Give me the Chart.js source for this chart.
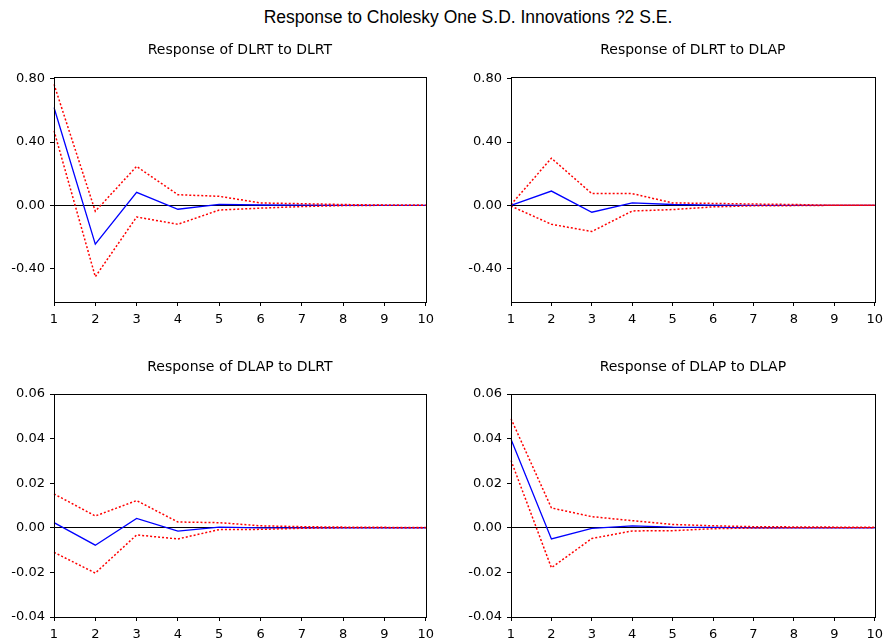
<!DOCTYPE html>
<html>
<head>
<meta charset="utf-8">
<script src="https://cdn.jsdelivr.net/npm/chart.js@4.4.1/dist/chart.umd.min.js"></script>
<style>
  html, body { margin: 0; padding: 0; background: #fff; overflow: hidden; }
  body { width: 889px; height: 643px; position: relative; }
  #titulo { position: absolute; left: 0; width: 936px; top: 7px; text-align: center;
    font: 17.5px "Liberation Sans", Arial, sans-serif; color: #000; }
  .panel { position: absolute; }
</style>
</head>
<body>
<div id="titulo">Response to Cholesky One S.D. Innovations ?2 S.E.</div>
<div class="panel" style="left:0;top:30px;width:440px;height:296px"><canvas id="c1"></canvas></div>
<div class="panel" style="left:457px;top:30px;width:432px;height:296px"><canvas id="c2"></canvas></div>
<div class="panel" style="left:0;top:347px;width:440px;height:296px"><canvas id="c3"></canvas></div>
<div class="panel" style="left:457px;top:347px;width:432px;height:296px"><canvas id="c4"></canvas></div>
<script>
// periodos
const periodos = ['1', '2', '3', '4', '5', '6', '7', '8', '9', '10'];

// Response of DLRT to DLRT
const dlrtDlrt = [0.619, -0.246, 0.082, -0.025, 0.006, 0.002, 0.001, 0.0, 0.0, 0.0];
const dlrtDlrtUp = [0.766, -0.038, 0.246, 0.067, 0.057, 0.015, 0.010, 0.005, 0.001, 0.0];
const dlrtDlrtLo = [0.472, -0.452, -0.074, -0.120, -0.030, -0.018, -0.008, -0.002, 0.0, 0.0];

// Response of DLRT to DLAP
const dlrtDlap = [0.0, 0.090, -0.044, 0.015, 0.005, 0.001, 0.0, 0.0, 0.0, 0.0];
const dlrtDlapUp = [0.005, 0.298, 0.074, 0.074, 0.015, 0.012, 0.008, 0.005, 0.0, 0.0];
const dlrtDlapLo = [-0.005, -0.120, -0.166, -0.036, -0.027, -0.010, -0.003, -0.002, 0.0, 0.0];

// Response of DLAP to DLRT
const dlapDlrt = [0.0023, -0.0078, 0.0042, -0.0015, 0.0003, 0.0, 0.0, 0.0, 0.0, 0.0];
const dlapDlrtUp = [0.0152, 0.0053, 0.0122, 0.0026, 0.0023, 0.0009, 0.0005, 0.0003, 0.0002, 0.0001];
const dlapDlrtLo = [-0.0110, -0.0203, -0.0032, -0.0050, -0.0008, -0.0007, -0.0002, 0.0, 0.0, 0.0];

// Response of DLAP to DLAP
const dlapDlap = [0.0397, -0.0050, -0.0003, 0.0009, 0.0003, 0.0002, 0.0, 0.0, 0.0, 0.0];
const dlapDlapUp = [0.0489, 0.0089, 0.0050, 0.0032, 0.0015, 0.0009, 0.0005, 0.0004, 0.0003, 0.0002];
const dlapDlapLo = [0.0302, -0.0179, -0.0048, -0.0014, -0.0013, -0.0004, -0.0001, 0.0, 0.0, 0.0];

// ticks del eje y
const ticksArriba = [-0.40, 0.00, 0.40, 0.80];
const ticksAbajo = [-0.04, -0.02, 0.00, 0.02, 0.04, 0.06];

const fuente = '"DejaVu Sans", Verdana, sans-serif';

// marco completo y titulo del panel
const marco = {
  id: 'marco',
  afterDraw(chart, args, opts) {
    const a = chart.chartArea;
    const ctx = chart.ctx;
    ctx.save();
    ctx.strokeStyle = '#000';
    ctx.lineWidth = 1;
    ctx.strokeRect(Math.round(a.left) + 0.5, Math.round(a.top) + 0.5,
      Math.round(a.right - a.left), Math.round(a.bottom - a.top));
    ctx.fillStyle = '#000';
    ctx.font = '14px ' + fuente;
    ctx.textAlign = 'center';
    ctx.textBaseline = 'middle';
    ctx.fillText(opts.text, (a.left + a.right) / 2, a.top - 27);
    ctx.restore();
  }
};

function dibujar(id, titulo, irf, up, lo, ticks, min, max, pad, altoX) {
  const canva = document.getElementById(id).getContext('2d');
  return new Chart(canva, {
    type: 'line',
    data: {
      labels: periodos,
      datasets: [
        { data: up, borderColor: '#ff0000', borderWidth: 1.5, borderDash: [2, 2], pointRadius: 0, fill: false, tension: 0 },
        { data: lo, borderColor: '#ff0000', borderWidth: 1.5, borderDash: [2, 2], pointRadius: 0, fill: false, tension: 0 },
        { data: irf, borderColor: '#0000ff', borderWidth: 1.3, pointRadius: 0, fill: false, tension: 0 }
      ]
    },
    options: {
      responsive: true,
      maintainAspectRatio: false,
      animation: false,
      layout: { padding: pad },
      plugins: {
        legend: { display: false },
        tooltip: { enabled: false },
        marco: { text: titulo }
      },
      scales: {
        x: {
          offset: false,
          grid: { color: 'rgba(0,0,0,0)', tickColor: '#000', tickLength: 4, drawTicks: true },
          border: { color: '#000' },
          ticks: { color: '#000', font: { family: fuente, size: 13 }, padding: 6, maxRotation: 0, autoSkip: false },
          afterFit: function (axis) { axis.height = altoX; }
        },
        y: {
          min: min,
          max: max,
          grid: {
            // solo la linea del cero
            color: function (c) { return c.tick && Math.abs(c.tick.value) < 1e-9 ? '#000' : 'rgba(0,0,0,0)'; },
            tickColor: '#000',
            tickLength: 4
          },
          border: { color: '#000' },
          ticks: {
            color: '#000',
            font: { family: fuente, size: 13 },
            padding: 5,
            callback: function (v) { return Number(v).toFixed(2); }
          },
          afterBuildTicks: function (axis) { axis.ticks = ticks.map(function (v) { return { value: v }; }); },
          afterFit: function (axis) { axis.width = 54; }
        }
      }
    },
    plugins: [marco]
  });
}

dibujar('c1', 'Response of DLRT to DLRT', dlrtDlrt, dlrtDlrtUp, dlrtDlrtLo, ticksArriba, -0.612, 0.812,
  { left: 0, top: 47, right: 13, bottom: 0 }, 24);
dibujar('c2', 'Response of DLRT to DLAP', dlrtDlap, dlrtDlapUp, dlrtDlapLo, ticksArriba, -0.612, 0.812,
  { left: 0, top: 47, right: 7, bottom: 0 }, 24);
dibujar('c3', 'Response of DLAP to DLRT', dlapDlrt, dlapDlrtUp, dlapDlrtLo, ticksAbajo, -0.04, 0.06,
  { left: 0, top: 47, right: 13, bottom: 0 }, 26);
dibujar('c4', 'Response of DLAP to DLAP', dlapDlap, dlapDlapUp, dlapDlapLo, ticksAbajo, -0.04, 0.06,
  { left: 0, top: 47, right: 7, bottom: 0 }, 26);
</script>
</body>
</html>
